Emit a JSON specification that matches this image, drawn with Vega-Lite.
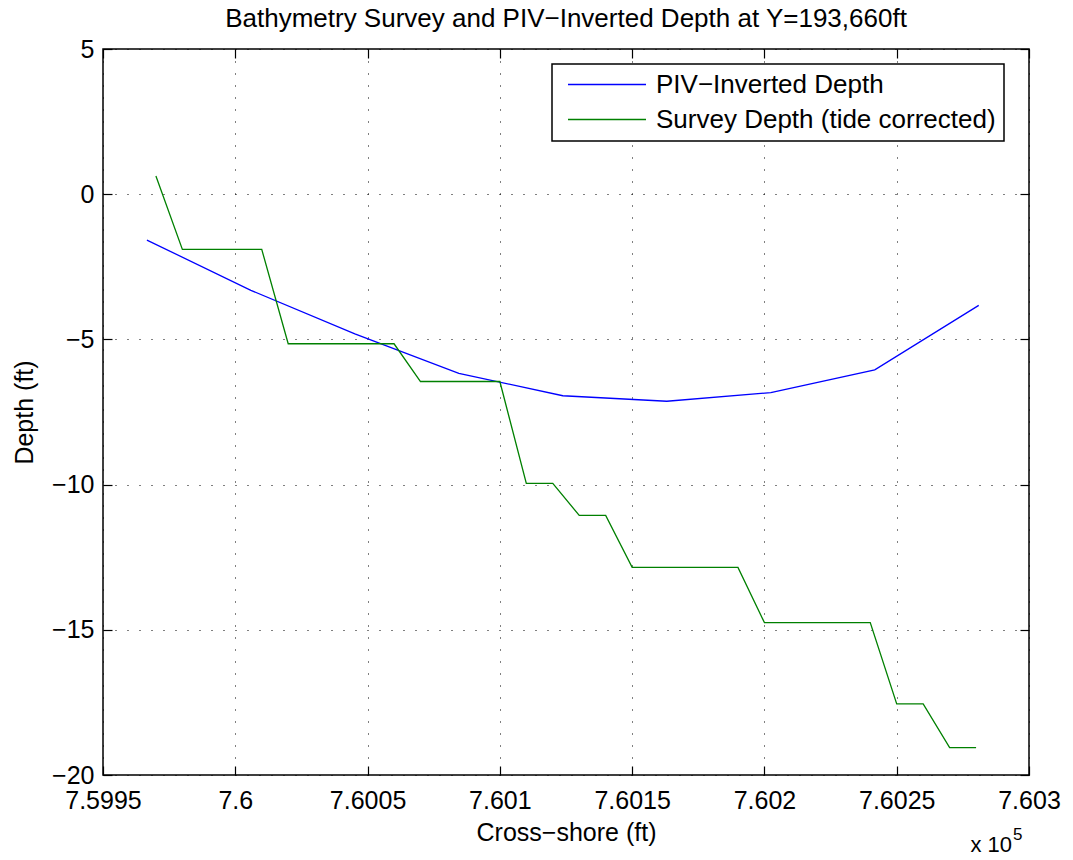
{
  "$schema": "https://vega.github.io/schema/vega-lite/v6.json",
  "width": 926,
  "height": 726,
  "autosize": "none",
  "padding": {"left": 103, "top": 49, "right": 44, "bottom": 85},
  "background": "white",
  "title": {
    "text": "Bathymetry Survey and PIV−Inverted Depth at Y=193,660ft",
    "fontSize": 26,
    "font": "Liberation Sans",
    "fontWeight": "normal",
    "color": "black",
    "anchor": "middle",
    "frame": "group",
    "baseline": "alphabetic",
    "offset": 9,
    "dy": 25
  },
  "config": {
    "view": {"stroke": "black", "strokeWidth": 1.5},
    "font": "Liberation Sans",
    "axis": {
      "labelFont": "Liberation Sans",
      "titleFont": "Liberation Sans",
      "labelFontSize": 25,
      "titleFontSize": 25,
      "titleFontWeight": "normal",
      "labelColor": "black",
      "titleColor": "black",
      "tickColor": "black",
      "tickWidth": 1.2,
      "tickSize": -9,
      "domain": false,
      "gridColor": "black",
      "gridDash": [1, 11],
      "gridWidth": 1,
      "gridOpacity": 1
    },
    "legend": {"strokeWidth": 1.5}
  },
  "datasets": {
    "depth": [
      {"series": "PIV−Inverted Depth", "x": 759966.6, "depth": -1.58},
      {"series": "PIV−Inverted Depth", "x": 760005.9, "depth": -3.31},
      {"series": "PIV−Inverted Depth", "x": 760045.2, "depth": -4.81},
      {"series": "PIV−Inverted Depth", "x": 760084.5, "depth": -6.17},
      {"series": "PIV−Inverted Depth", "x": 760123.8, "depth": -6.94},
      {"series": "PIV−Inverted Depth", "x": 760163.1, "depth": -7.13},
      {"series": "PIV−Inverted Depth", "x": 760202.4, "depth": -6.83},
      {"series": "PIV−Inverted Depth", "x": 760241.7, "depth": -6.05},
      {"series": "PIV−Inverted Depth", "x": 760281.0, "depth": -3.83},
      {"series": "Survey Depth (tide corrected)", "x": 759970, "depth": 0.63},
      {"series": "Survey Depth (tide corrected)", "x": 759980, "depth": -1.9},
      {"series": "Survey Depth (tide corrected)", "x": 760010, "depth": -1.9},
      {"series": "Survey Depth (tide corrected)", "x": 760020, "depth": -5.15},
      {"series": "Survey Depth (tide corrected)", "x": 760060, "depth": -5.15},
      {"series": "Survey Depth (tide corrected)", "x": 760070, "depth": -6.45},
      {"series": "Survey Depth (tide corrected)", "x": 760100, "depth": -6.45},
      {"series": "Survey Depth (tide corrected)", "x": 760110, "depth": -9.96},
      {"series": "Survey Depth (tide corrected)", "x": 760120, "depth": -9.96},
      {"series": "Survey Depth (tide corrected)", "x": 760130, "depth": -11.06},
      {"series": "Survey Depth (tide corrected)", "x": 760140, "depth": -11.06},
      {"series": "Survey Depth (tide corrected)", "x": 760150, "depth": -12.85},
      {"series": "Survey Depth (tide corrected)", "x": 760190, "depth": -12.85},
      {"series": "Survey Depth (tide corrected)", "x": 760200, "depth": -14.75},
      {"series": "Survey Depth (tide corrected)", "x": 760240, "depth": -14.75},
      {"series": "Survey Depth (tide corrected)", "x": 760250, "depth": -17.55},
      {"series": "Survey Depth (tide corrected)", "x": 760260, "depth": -17.55},
      {"series": "Survey Depth (tide corrected)", "x": 760270, "depth": -19.06},
      {"series": "Survey Depth (tide corrected)", "x": 760280, "depth": -19.06}
    ],
    "note": [{"label": "x 10", "sup": "5", "x": 760300, "depth": -20}]
  },
  "layer": [
    {
      "data": {"name": "depth"},
      "mark": {"type": "line", "strokeWidth": 1.3},
      "encoding": {
        "x": {
          "field": "x",
          "type": "quantitative",
          "scale": {"domain": [759950, 760300], "nice": false, "zero": false},
          "axis": {
            "orient": "bottom",
            "values": [759950, 760000, 760050, 760100, 760150, 760200, 760250, 760300],
            "labelExpr": "format(datum.value / 100000, '.5~f')",
            "labelPadding": 22,
            "labelFlush": false,
            "labelOverlap": false,
            "grid": true,
            "title": "Cross−shore (ft)",
            "titlePadding": 7
          }
        },
        "y": {
          "field": "depth",
          "type": "quantitative",
          "scale": {"domain": [-20, 5], "nice": false, "zero": false},
          "axis": {
            "orient": "left",
            "values": [-20, -15, -10, -5, 0, 5],
            "labelPadding": 18,
            "labelFlush": false,
            "labelOverlap": false,
            "grid": true,
            "title": "Depth (ft)",
            "titlePadding": 14
          }
        },
        "color": {
          "field": "series",
          "type": "nominal",
          "scale": {
            "domain": ["PIV−Inverted Depth", "Survey Depth (tide corrected)"],
            "range": ["#0000ff", "#008000"]
          },
          "legend": {
            "title": null,
            "orient": "none",
            "legendX": 449,
            "legendY": 15,
            "symbolType": "stroke",
            "symbolSize": 6084,
            "symbolStrokeWidth": 1.3,
            "symbolOffset": 7,
            "labelOffset": 9,
            "labelFont": "Liberation Sans",
            "labelFontSize": 26,
            "labelColor": "black",
            "labelLimit": 500,
            "clipHeight": 25,
            "rowPadding": 8,
            "padding": 8,
            "strokeColor": "black",
            "fillColor": "white"
          }
        }
      }
    },
    {
      "data": {"name": "note"},
      "mark": {"type": "text", "align": "right", "baseline": "alphabetic", "dx": -17, "dy": 77, "fontSize": 22, "font": "Liberation Sans", "color": "black"},
      "encoding": {
        "text": {"field": "label"},
        "x": {
          "field": "x",
          "type": "quantitative",
          "scale": {"domain": [759950, 760300], "nice": false, "zero": false},
          "axis": {
            "orient": "top",
            "values": [759950, 760000, 760050, 760100, 760150, 760200, 760250, 760300],
            "labels": false,
            "grid": false,
            "title": null
          }
        },
        "y": {
          "field": "depth",
          "type": "quantitative",
          "scale": {"domain": [-20, 5], "nice": false, "zero": false},
          "axis": {
            "orient": "right",
            "values": [-20, -15, -10, -5, 0, 5],
            "labels": false,
            "grid": false,
            "title": null
          }
        }
      }
    },
    {
      "data": {"name": "note"},
      "mark": {"type": "text", "align": "left", "baseline": "alphabetic", "dx": -16, "dy": 65, "fontSize": 17, "font": "Liberation Sans", "color": "black"},
      "encoding": {
        "text": {"field": "sup"},
        "x": {"field": "x", "type": "quantitative", "axis": null},
        "y": {"field": "depth", "type": "quantitative", "axis": null}
      }
    }
  ],
  "resolve": {"axis": {"x": "independent", "y": "independent"}}
}
